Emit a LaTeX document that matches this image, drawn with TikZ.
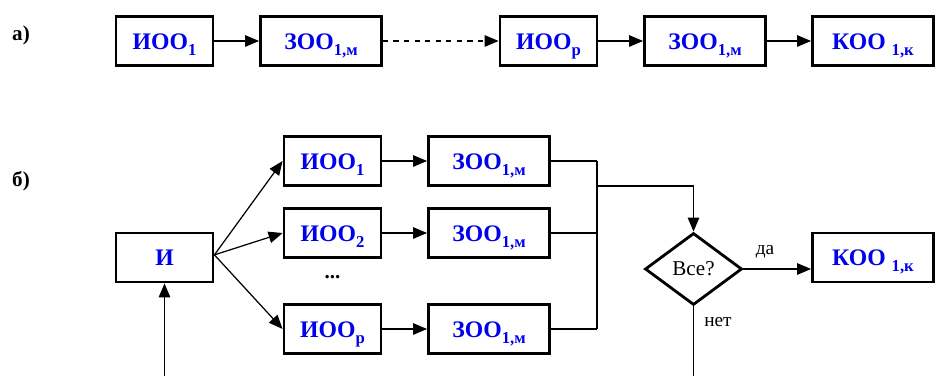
\documentclass[tikz,border=0pt]{standalone}
\usepackage{fontspec}
\setmainfont{Liberation Serif}
\usetikzlibrary{shapes.geometric,arrows.meta}
\definecolor{boxblue}{RGB}{0,0,235}
\newcommand{\sbs}[1]{\smash{\raisebox{-0.55ex}{\fontsize{9.5}{9.5}\selectfont #1}}}

\begin{document}
\begin{tikzpicture}[x=0.2mm,y=-0.2mm,
		box/.style={draw,line width=1.6pt,minimum height=9.8mm,inner sep=0pt,
			text height=2ex,text depth=0pt,font=\fontsize{13.5}{15}\selectfont\bfseries,text=boxblue},
		boxs/.style={box,minimum width=19.4mm},
		boxw/.style={box,minimum width=24.2mm},
		ar/.style={line width=0.7pt,-{Triangle[length=2.8mm,width=2.3mm]}},
		ln/.style={line width=0.7pt}]
				\useasboundingbox (0,0) rectangle (935,376);
				% a)
				\node[font=\bfseries\large] (la) at (21,35) {а)};
				\node[boxs] (ia1) at (164.5,41) {ИОО\sbs{1}};
				\node[boxw] (za1) at (321,41) {ЗОО\sbs{1,м}};
				\node[boxs] (iap) at (548.5,41) {ИОО\sbs{p}};
				\node[boxw] (za2) at (705,41) {ЗОО\sbs{1,м}};
				\node[boxw] (ka) at (873,41) {КОО \sbs{1,к}};
				\draw[ar] (ia1) -- (za1);
				\draw[ar,dashed] (za1) -- (iap);
				\draw[ar] (iap) -- (za2);
				\draw[ar] (za2) -- (ka);
				% b)
				\node[font=\bfseries\large] (lb) at (21,181) {б)};
				\node[boxs] (ib) at (164.5,257.5) {И};
				\foreach \n/\y in {1/161,2/233,p/329}{
					\node[boxs] (ib\n) at (332.5,\y) {ИОО\sbs{\n}};
					\node[boxw] (zb\n) at (489,\y) {ЗОО\sbs{1,м}};
					\draw[ar] (ib\n) -- (zb\n);
					\draw[ar] ([yshift=1.5pt]ib.east) -- (ib\n.west);
					\draw[ln] (zb\n.east) -- (597,\y);
				}
				\node[font=\bfseries\large] (dots) at (332.5,277) {...};
				\draw[ln] (597,161) -- (597,329);
				\node[draw,diamond,line width=1.6pt,inner sep=0pt,aspect=1.35,
					minimum width=19.4mm,minimum height=14.4mm,
					font=\fontsize{12}{14}\selectfont] (dia) at (693.5,269) {Все?};
				\coordinate (jn) at (597,186);
				\draw[ar] (jn) -| (dia.north);
				\node[boxw] (kb) at (873,257.5) {КОО \sbs{1,к}};
				\draw[ar] (dia.east) -- (dia.east -| kb.west);
				\node[font=\fontsize{11}{13}\selectfont] (yes) at (765,252) {да};
				\node[font=\fontsize{11}{13}\selectfont] (no) at (718,322) {нет};
				\coordinate (bi) at (164.5,376);
				\coordinate (bd) at (693.5,376);
				\draw[ar] (bi) -- (ib.south);
				\draw[ln] (dia.south) -- (bd);
\end{tikzpicture}
\end{document}
